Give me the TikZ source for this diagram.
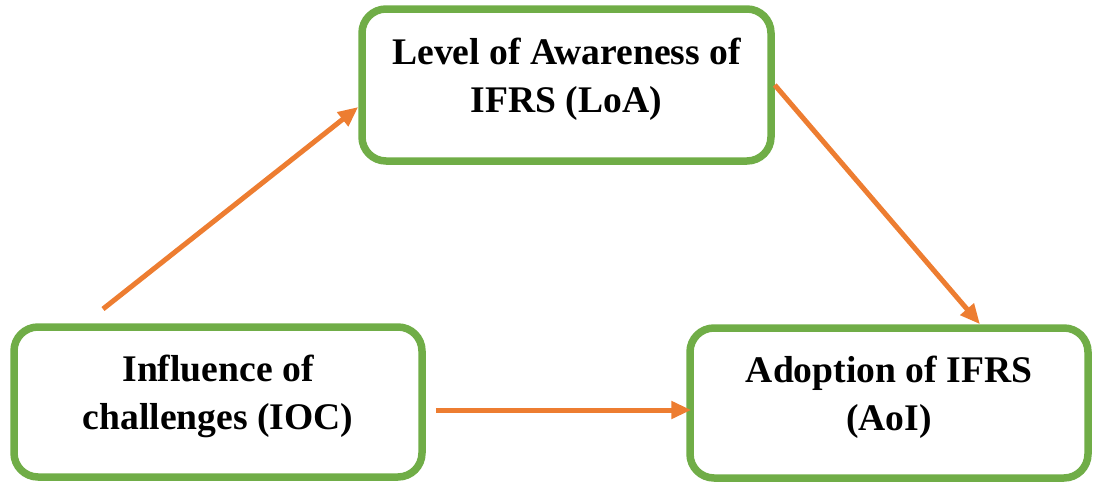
\documentclass[tikz,border=0pt]{standalone}
\usepackage{fontspec}
\setmainfont{Liberation Serif}
\usepackage{xcolor}
\definecolor{boxgreen}{HTML}{70AD47}
\definecolor{linkorange}{HTML}{ED7D31}
\usetikzlibrary{shapes, arrows.meta, positioning}
\tikzstyle{box}  = [draw=boxgreen, line width=3.75pt, rectangle, rounded corners=12pt,
                    align=center, text depth=10pt,
                    font=\fontsize{18.8}{24}\selectfont\bfseries]
\tikzstyle{link} = [draw=linkorange, line width=2.5pt, -{Triangle[length=10pt, width=8.5pt]}]

\begin{document}
\begin{tikzpicture}[x=0.5pt, y=-0.5pt]

\useasboundingbox (0,0) rectangle (1093,482);

% nodes
\node [box, minimum width=204.5pt, minimum height=76pt] at ( 566.5,  85  ) (loa) {Level of Awareness of\\IFRS (LoA)};
\node [box, minimum width=204pt,   minimum height=75pt] at ( 218  , 402  ) (ioc) {Influence of\\challenges (IOC)};
\node [box, minimum width=199pt,   minimum height=75pt] at ( 889  , 403  ) (aoi) {Adoption of IFRS\\(AoI)};
\coordinate (ioctop) at ( 103 , 309 );

% edges
\path (ioctop)                        edge [link] ([yshift=-11pt]loa.west)
      (loa.east)                      edge [link] ([xshift=45.5pt]aoi.north)
      ([shift={(5pt,-4pt)}]ioc.east)  edge [link] ([shift={(2.5pt,-3.5pt)}]aoi.west);

\end{tikzpicture}
\end{document}
